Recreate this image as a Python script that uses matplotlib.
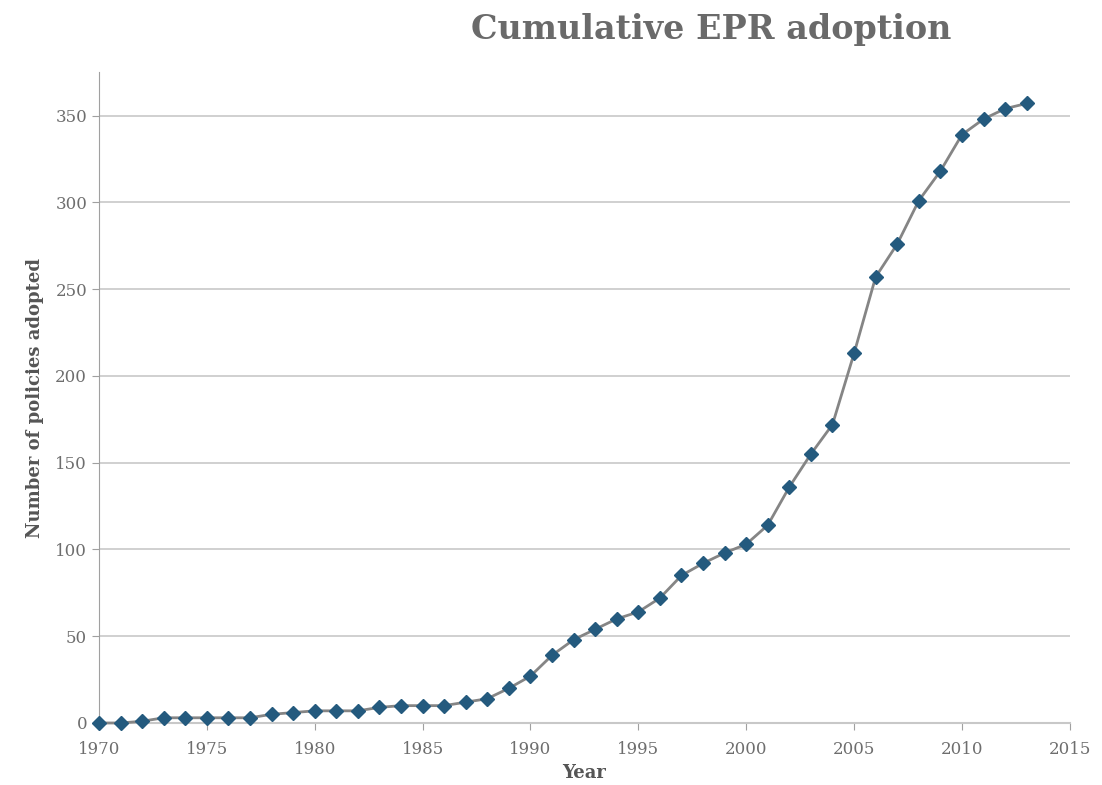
import matplotlib.pyplot as plt

# données
annees = list(range(1970, 2014))
politiques = [0, 0, 1, 3, 3, 3, 3, 3, 5, 6,
              7, 7, 7, 9, 10, 10, 10, 12, 14, 20,
              27, 39, 48, 54, 60, 64, 72, 85, 92, 98,
              103, 114, 136, 155, 172, 213, 257, 276, 301, 318,
              339, 348, 354, 357]
x_ticks = [1970, 1975, 1980, 1985, 1990, 1995, 2000, 2005, 2010, 2015]
y_ticks = [0, 50, 100, 150, 200, 250, 300, 350]

plt.rcParams['font.family'] = ['DejaVu Serif']

fig = plt.figure(figsize=(11.02, 7.85), dpi=100)
ax = fig.add_axes([0.0898, 0.079, 0.881, 0.829])

ax.plot(annees, politiques, color='#858585', linewidth=2, zorder=3,
        marker='D', markersize=7, markerfacecolor='#245a7e',
        markeredgecolor='#245a7e', clip_on=False)

ax.set_xlim(1970, 2015)
ax.set_ylim(0, 375)
ax.set_xticks(x_ticks)
ax.set_yticks(y_ticks)
ax.yaxis.grid(True, color='#c8c8c8', linewidth=1.2)
ax.set_axisbelow(True)

for s in ['top', 'right']:
    ax.spines[s].set_visible(False)
ax.spines['left'].set_color('#a0a0a0')
ax.spines['bottom'].set_color('#c8c8c8')
ax.spines['bottom'].set_linewidth(1.5)
ax.tick_params(axis='both', colors='#a0a0a0', labelcolor='#6e6e6e',
               labelsize=12, length=5)
ax.tick_params(axis='x', pad=8)

ax.set_xlabel('Year', fontsize=13, fontweight='bold', color='#555555',
              labelpad=4)
ax.set_ylabel('Number of policies adopted', fontsize=13, fontweight='bold',
              color='#555555', labelpad=8)

fig.text(0.645, 0.963, 'Cumulative EPR adoption', ha='center', va='center',
         fontsize=24, fontweight='bold', color='#6a6a6a')

fig.savefig('out.png', dpi=100)
